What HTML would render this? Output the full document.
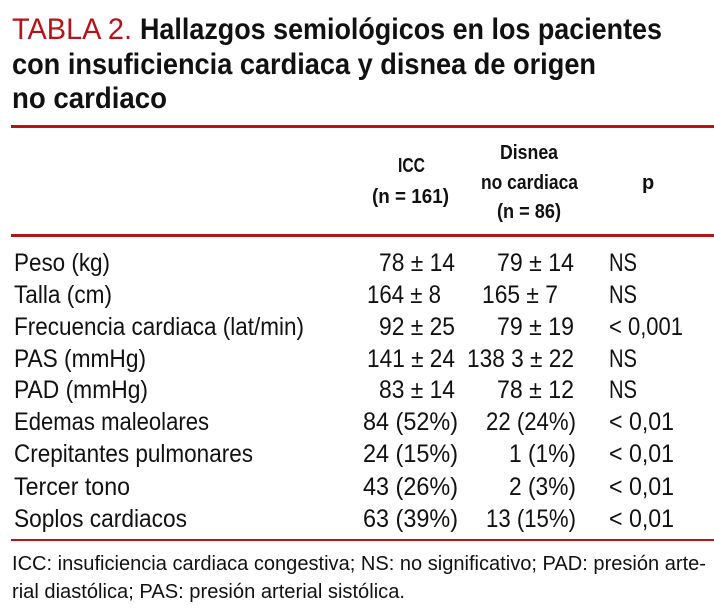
<!DOCTYPE html>
<html><head><meta charset="utf-8"><style>
html,body{margin:0;padding:0;background:#fff;width:714px;height:615px;overflow:hidden}
svg{display:block}
text{font-family:"Liberation Sans",sans-serif;fill:#111}
.t{font-size:30px;font-weight:bold}
.b{font-size:25px}
.h{font-size:20px;font-weight:bold}
.f{font-size:20px}
</style></head><body>
<svg width="714" height="615">
<g>
<text class="t" x="12" y="39" style="font-weight:normal;fill:#b5121b" textLength="120" lengthAdjust="spacingAndGlyphs">TABLA 2.</text>
<text class="t" x="140" y="39" textLength="522" lengthAdjust="spacingAndGlyphs">Hallazgos semiológicos en los pacientes</text>
<text class="t" x="12" y="74" textLength="584" lengthAdjust="spacingAndGlyphs">con insuficiencia cardiaca y disnea de origen</text>
<text class="t" x="12" y="108" textLength="155" lengthAdjust="spacingAndGlyphs">no cardiaco</text>
</g>
<rect x="11" y="125" width="703" height="3" fill="#b5121b"/>
<g>
<text class="h" x="398" y="172" textLength="27" lengthAdjust="spacingAndGlyphs">ICC</text>
<text class="h" x="372" y="203" textLength="77" lengthAdjust="spacingAndGlyphs">(n = 161)</text>
<text class="h" x="500" y="159" textLength="58" lengthAdjust="spacingAndGlyphs">Disnea</text>
<text class="h" x="481" y="189" textLength="97" lengthAdjust="spacingAndGlyphs">no cardiaca</text>
<text class="h" x="497" y="218" textLength="64" lengthAdjust="spacingAndGlyphs">(n = 86)</text>
<text class="h" x="642" y="189">p</text>
</g>
<rect x="11" y="234" width="703" height="3" fill="#b5121b"/>
<g>
<text class="b" x="14" y="271" textLength="96" lengthAdjust="spacingAndGlyphs">Peso (kg)</text>
<text class="b" x="379" y="271" textLength="76" lengthAdjust="spacingAndGlyphs">78 ± 14</text>
<text class="b" x="497" y="271" textLength="77" lengthAdjust="spacingAndGlyphs">79 ± 14</text>
<text class="b" x="609" y="271" textLength="28" lengthAdjust="spacingAndGlyphs">NS</text>

<text class="b" x="14" y="303" textLength="98" lengthAdjust="spacingAndGlyphs">Talla (cm)</text>
<text class="b" x="367" y="303" textLength="74" lengthAdjust="spacingAndGlyphs">164 ± 8</text>
<text class="b" x="482" y="303" textLength="76" lengthAdjust="spacingAndGlyphs">165 ± 7</text>
<text class="b" x="609" y="303" textLength="28" lengthAdjust="spacingAndGlyphs">NS</text>

<text class="b" x="14" y="335" textLength="290" lengthAdjust="spacingAndGlyphs">Frecuencia cardiaca (lat/min)</text>
<text class="b" x="379" y="335" textLength="76" lengthAdjust="spacingAndGlyphs">92 ± 25</text>
<text class="b" x="497" y="335" textLength="77" lengthAdjust="spacingAndGlyphs">79 ± 19</text>
<text class="b" x="609" y="335" textLength="74" lengthAdjust="spacingAndGlyphs">&lt; 0,001</text>

<text class="b" x="14" y="367" textLength="132" lengthAdjust="spacingAndGlyphs">PAS (mmHg)</text>
<text class="b" x="367" y="367" textLength="88" lengthAdjust="spacingAndGlyphs">141 ± 24</text>
<text class="b" x="467" y="367" textLength="107" lengthAdjust="spacingAndGlyphs">138 3 ± 22</text>
<text class="b" x="609" y="367" textLength="28" lengthAdjust="spacingAndGlyphs">NS</text>

<text class="b" x="14" y="398" textLength="134" lengthAdjust="spacingAndGlyphs">PAD (mmHg)</text>
<text class="b" x="379" y="398" textLength="76" lengthAdjust="spacingAndGlyphs">83 ± 14</text>
<text class="b" x="497" y="398" textLength="77" lengthAdjust="spacingAndGlyphs">78 ± 12</text>
<text class="b" x="609" y="398" textLength="28" lengthAdjust="spacingAndGlyphs">NS</text>

<text class="b" x="14" y="430" textLength="195" lengthAdjust="spacingAndGlyphs">Edemas maleolares</text>
<text class="b" x="363" y="430" textLength="95" lengthAdjust="spacingAndGlyphs">84 (52%)</text>
<text class="b" x="486" y="430" textLength="90" lengthAdjust="spacingAndGlyphs">22 (24%)</text>
<text class="b" x="609" y="430" textLength="65" lengthAdjust="spacingAndGlyphs">&lt; 0,01</text>

<text class="b" x="14" y="462" textLength="239" lengthAdjust="spacingAndGlyphs">Crepitantes pulmonares</text>
<text class="b" x="363" y="462" textLength="95" lengthAdjust="spacingAndGlyphs">24 (15%)</text>
<text class="b" x="509" y="462" textLength="67" lengthAdjust="spacingAndGlyphs">1 (1%)</text>
<text class="b" x="609" y="462" textLength="65" lengthAdjust="spacingAndGlyphs">&lt; 0,01</text>

<text class="b" x="14" y="495" textLength="116" lengthAdjust="spacingAndGlyphs">Tercer tono</text>
<text class="b" x="363" y="495" textLength="95" lengthAdjust="spacingAndGlyphs">43 (26%)</text>
<text class="b" x="509" y="495" textLength="67" lengthAdjust="spacingAndGlyphs">2 (3%)</text>
<text class="b" x="609" y="495" textLength="65" lengthAdjust="spacingAndGlyphs">&lt; 0,01</text>

<text class="b" x="14" y="527" textLength="173" lengthAdjust="spacingAndGlyphs">Soplos cardiacos</text>
<text class="b" x="363" y="527" textLength="95" lengthAdjust="spacingAndGlyphs">63 (39%)</text>
<text class="b" x="486" y="527" textLength="90" lengthAdjust="spacingAndGlyphs">13 (15%)</text>
<text class="b" x="609" y="527" textLength="65" lengthAdjust="spacingAndGlyphs">&lt; 0,01</text>
</g>
<rect x="11" y="539" width="703" height="2" fill="#b5121b"/>
<g>
<text class="f" x="12" y="570" textLength="694" lengthAdjust="spacingAndGlyphs">ICC: insuficiencia cardiaca congestiva; NS: no significativo; PAD: presión arte-</text>
<text class="f" x="12" y="598" textLength="393" lengthAdjust="spacingAndGlyphs">rial diastólica; PAS: presión arterial sistólica.</text>
</g>
</svg>
</body></html>
